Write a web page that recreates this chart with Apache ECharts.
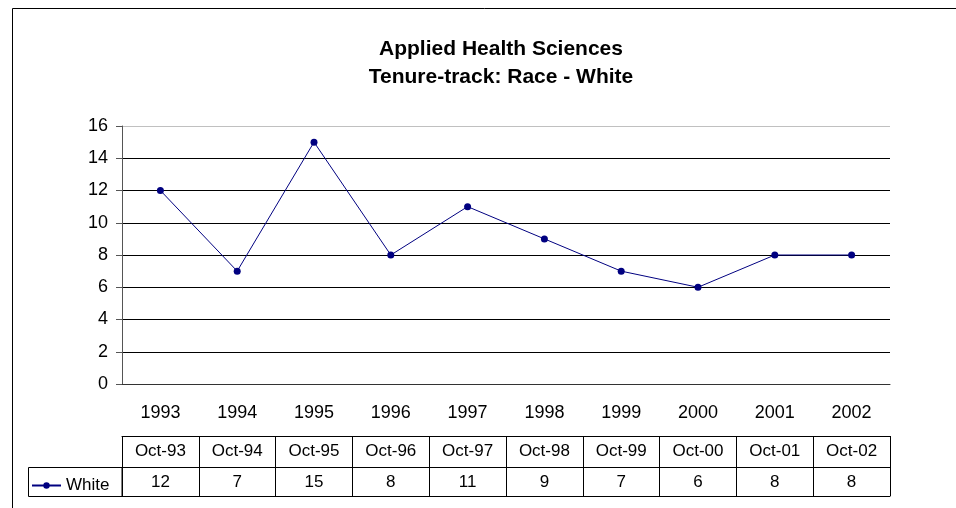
<!DOCTYPE html>
<html>
<head>
<meta charset="utf-8">
<script src="https://cdn.jsdelivr.net/npm/echarts@6/dist/echarts.min.js"></script>
<style>
    html, body { margin: 0; padding: 0; background: #fff; }
    #chart { width: 956px; height: 508px; }
</style>
</head>
<body>
<div id="chart"></div>
<script>
const years = ['1993', '1994', '1995', '1996', '1997', '1998', '1999', '2000', '2001', '2002'];
const tableHeads = ['Oct-93', 'Oct-94', 'Oct-95', 'Oct-96', 'Oct-97', 'Oct-98', 'Oct-99', 'Oct-00', 'Oct-01', 'Oct-02'];
const whiteValues = [12, 7, 15, 8, 11, 9, 7, 6, 8, 8];
const seriesName = 'White';

const font = "'Liberation Sans', Arial, sans-serif";
const gridColors = ['#000', '#000', '#000', '#000', '#000', '#000', '#000', '#000', '#c0c0c0'];

const chart = echarts.init(document.getElementById('chart'));

// extra category axes below the plot act as the data table rows
function tableAxis(offset, labels, tickLen, showLabel) {
    return {
        type: 'category',
        position: 'bottom',
        offset: offset,
        data: labels,
        axisLine: { show: true, lineStyle: { color: '#000', width: 1 } },
        axisTick: { show: tickLen > 0, length: tickLen, lineStyle: { color: '#000' } },
        axisLabel: {
            show: showLabel,
            margin: 7,
            color: '#000',
            fontFamily: font,
            fontSize: 17
        },
        splitLine: { show: false }
    };
}

chart.setOption({
    animation: false,
    title: {
        text: 'Applied Health Sciences\nTenure-track: Race - White',
        left: 496,
        top: 30,
        textAlign: 'center',
        textStyle: {
            fontFamily: font,
            fontSize: 21,
            fontWeight: 'bold',
            color: '#000',
            lineHeight: 28
        }
    },
    legend: {
        data: [seriesName],
        left: 26,
        top: 472,
        itemWidth: 29,
        itemHeight: 8,
        textStyle: { fontFamily: font, fontSize: 17, color: '#000' }
    },
    grid: {
        left: 122,
        right: 66,
        top: 126,
        bottom: 124,
        containLabel: false
    },
    xAxis: [
        {
            type: 'category',
            data: years,
            axisLine: { lineStyle: { color: '#333' } },
            axisTick: { length: 5, lineStyle: { color: '#333' } },
            axisLabel: { margin: 20, color: '#000', fontFamily: font, fontSize: 18 }
        },
        tableAxis(52, tableHeads, 31, true),
        tableAxis(83, whiteValues.map(String), 29, true),
        tableAxis(112, years, 0, false)
    ],
    yAxis: {
        type: 'value',
        min: 0,
        max: 16,
        interval: 2,
        axisLine: { show: true, lineStyle: { color: '#555' } },
        axisTick: { show: true, length: 6, lineStyle: { color: '#555' } },
        axisLabel: { margin: 14, color: '#000', fontFamily: font, fontSize: 18 },
        splitLine: { show: true, lineStyle: { color: gridColors, width: 1 } }
    },
    series: [
        {
            name: seriesName,
            type: 'line',
            data: whiteValues,
            color: '#000080',
            symbol: 'circle',
            symbolSize: 7,
            showAllSymbol: true,
            lineStyle: { color: '#000080', width: 1 },
            itemStyle: { color: '#000080' }
        }
    ],
    graphic: [
        {
            type: 'rect',
            silent: true,
            shape: { x: 12.5, y: 8.5, width: 1000, height: 600 },
            style: { fill: 'none', stroke: '#000', lineWidth: 1 }
        },
        {
            type: 'rect',
            silent: true,
            shape: { x: 28.5, y: 467.5, width: 93.5, height: 29 },
            style: { fill: 'none', stroke: '#000', lineWidth: 1 }
        }
    ]
});
</script>
</body>
</html>
